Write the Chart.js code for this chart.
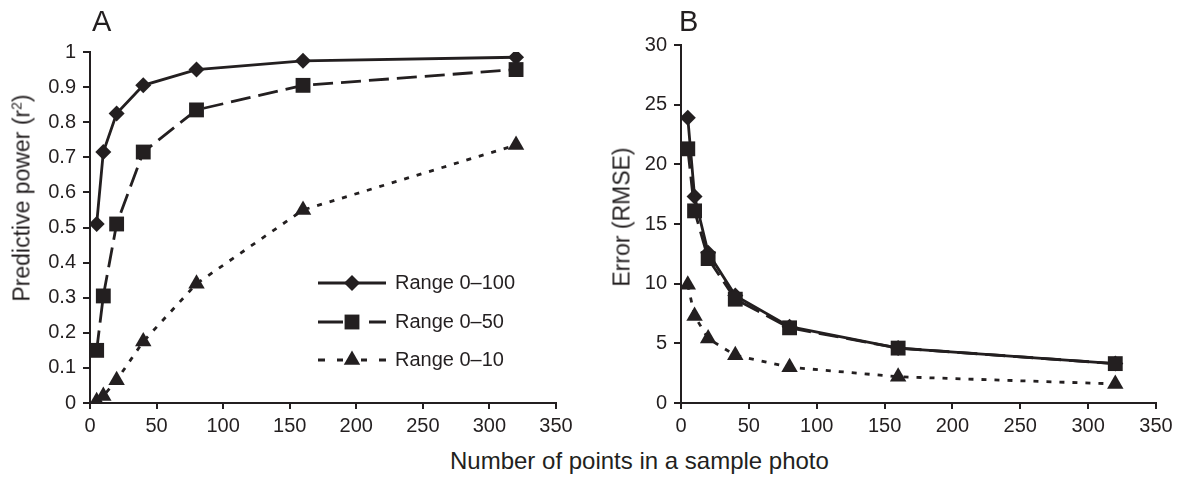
<!DOCTYPE html>
<html>
<head>
<meta charset="utf-8">
<script src="https://cdn.jsdelivr.net/npm/chart.js@4.4.1/dist/chart.umd.min.js"></script>
<style>
  body { margin: 0; background: #fff; width: 1178px; height: 477px; overflow: hidden; position: relative;
         font-family: "Liberation Sans", Arial, sans-serif; color: #231f20; }
  .panel { position: absolute; top: 0; height: 440px; }
  #panelA { left: 0; width: 600px; }
  #panelB { left: 600px; width: 578px; }
  .letter { position: absolute; top: 7px; font-size: 29px; line-height: 29px; }
  .ytitle { position: absolute; font-size: 23px; line-height: 23px; white-space: nowrap;
            transform: translate(-50%, -50%) rotate(-90deg); }
  .ytitle sup { font-size: 14px; vertical-align: 8px; line-height: 0; }
  #xTitle { position: absolute; top: 449px; left: 450px; font-size: 24px; line-height: 24px; white-space: nowrap; }
</style>
</head>
<body>
<div class="panel" id="panelA"><canvas id="chartA"></canvas></div>
<div class="panel" id="panelB"><canvas id="chartB"></canvas></div>
<div class="letter" style="left:92px">A</div>
<div class="letter" style="left:679px">B</div>
<div class="ytitle" style="left:22px; top:198px">Predictive power (r<sup>2</sup>)</div>
<div class="ytitle" style="left:622px; top:217px">Error (RMSE)</div>
<div id="xTitle">Number of points in a sample photo</div>
<script>
// Data
const samplePoints = [5, 10, 20, 40, 80, 160, 320];
const seriesNames = ['Range 0\u2013100', 'Range 0\u201350', 'Range 0\u201310'];

// Panel A: predictive power (r2)
const r2Range100 = [0.51, 0.715, 0.825, 0.905, 0.95, 0.975, 0.985];
const r2Range50  = [0.15, 0.305, 0.51, 0.715, 0.835, 0.905, 0.95];
const r2Range10  = [0.005, 0.02, 0.065, 0.175, 0.34, 0.55, 0.735];

// Panel B: error (RMSE)
const rmseRange100 = [23.9, 17.3, 12.6, 9.0, 6.4, 4.6, 3.3];
const rmseRange50  = [21.3, 16.1, 12.1, 8.7, 6.3, 4.6, 3.3];
const rmseRange10  = [9.9, 7.3, 5.4, 4.0, 3.0, 2.2, 1.6];

const ink = '#231f20';
const fontFamily = '"Liberation Sans", Arial, sans-serif';

const styles = [
  { pointStyle: 'rectRot', pointRadius: 8, borderDash: [], order: 1 },
  { pointStyle: 'rect', pointRadius: 10.5, borderDash: [20, 8], order: 0 },
  { pointStyle: 'triangle', pointRadius: 9.5, borderDash: [5, 8], order: 2 }
];

function toPoints(values) {
  return samplePoints.map((x, i) => ({ x: x, y: values[i] }));
}

function makeDatasets(seriesList) {
  return seriesList.map((values, i) => ({
    label: seriesNames[i],
    data: toPoints(values),
    borderColor: ink,
    backgroundColor: ink,
    borderWidth: 2.8,
    borderDash: styles[i].borderDash,
    pointStyle: styles[i].pointStyle,
    pointRadius: styles[i].pointRadius,
    pointBorderWidth: 0,
    pointBackgroundColor: ink,
    pointBorderColor: ink,
    order: styles[i].order,
    tension: 0
  }));
}

// legend drawn inside panel A: line + marker + text
const insideLegend = {
  id: 'insideLegend',
  afterDatasetsDraw(chart, args, opts) {
    if (!opts.show) return;
    const ctx = chart.ctx;
    const area = chart.chartArea;
    const rowsY = [231, 270, 308];
    const x0 = area.left + 228, x1 = area.left + 296, xm = (x0 + x1) / 2;
    ctx.save();
    chart.data.datasets.forEach((ds, i) => {
      const y = area.top + rowsY[i];
      ctx.strokeStyle = ink;
      ctx.lineWidth = 2.8;
      ctx.beginPath();
      if (ds.borderDash && ds.borderDash[0] > 10) {
        ctx.moveTo(x0, y); ctx.lineTo(x0 + 25, y);
        ctx.moveTo(x1 - 17, y); ctx.lineTo(x1, y);
      } else if (ds.borderDash && ds.borderDash.length) {
        [[x0, x0 + 7], [x0 + 19, x0 + 25], [x1 - 25, x1 - 19], [x1 - 7, x1]].forEach(s => {
          ctx.moveTo(s[0], y); ctx.lineTo(s[1], y);
        });
      } else {
        ctx.moveTo(x0, y); ctx.lineTo(x1, y);
      }
      ctx.stroke();
      ctx.fillStyle = ink;
      const r = ds.pointRadius;
      ctx.beginPath();
      if (ds.pointStyle === 'rectRot') {
        ctx.moveTo(xm - r, y); ctx.lineTo(xm, y - r); ctx.lineTo(xm + r, y); ctx.lineTo(xm, y + r);
      } else if (ds.pointStyle === 'rect') {
        const s = r * Math.SQRT1_2;
        ctx.rect(xm - s, y - s, 2 * s, 2 * s);
      } else {
        ctx.moveTo(xm, y - r); ctx.lineTo(xm + r * 0.866, y + r / 2); ctx.lineTo(xm - r * 0.866, y + r / 2);
      }
      ctx.closePath();
      ctx.fill();
      ctx.font = '20px ' + fontFamily;
      ctx.textBaseline = 'middle';
      ctx.textAlign = 'left';
      ctx.fillText(ds.label, x1 + 9, y);
    });
    ctx.restore();
  }
};

function makeChart(canvasId, seriesList, yMax, yStep, geom) {
  return new Chart(document.getElementById(canvasId), {
    type: 'line',
    data: { datasets: makeDatasets(seriesList) },
    plugins: [insideLegend],
    options: {
      responsive: true,
      maintainAspectRatio: false,
      animation: false,
      layout: { padding: { left: 0, right: geom.right, top: geom.top, bottom: 0 } },
      plugins: {
        legend: { display: false },
        tooltip: { enabled: false },
        insideLegend: { show: geom.legend }
      },
      scales: {
        x: {
          type: 'linear',
          min: 0, max: 350,
          afterFit: s => { s.height = geom.xHeight; },
          ticks: { stepSize: 50, color: ink, padding: 5, maxRotation: 0,
                   font: { size: 20, family: fontFamily } },
          grid: { drawOnChartArea: false, drawTicks: true, tickLength: 6, color: ink, lineWidth: 2 },
          border: { color: ink, width: 2 }
        },
        y: {
          type: 'linear',
          min: 0, max: yMax,
          afterFit: s => { s.width = geom.yWidth; },
          ticks: { stepSize: yStep, color: ink, padding: 7,
                   font: { size: 20, family: fontFamily },
                   callback: v => String(+v.toFixed(2)) },
          grid: { drawOnChartArea: false, drawTicks: true, tickLength: 7, color: ink, lineWidth: 2 },
          border: { color: ink, width: 2 }
        }
      }
    }
  });
}

makeChart('chartA', [r2Range100, r2Range50, r2Range10], 1, 0.1,
  { right: 44, top: 52, xHeight: 37, yWidth: 90, legend: true });
makeChart('chartB', [rmseRange100, rmseRange50, rmseRange10], 30, 5,
  { right: 22, top: 45, xHeight: 37, yWidth: 81, legend: false });
</script>
</body>
</html>
